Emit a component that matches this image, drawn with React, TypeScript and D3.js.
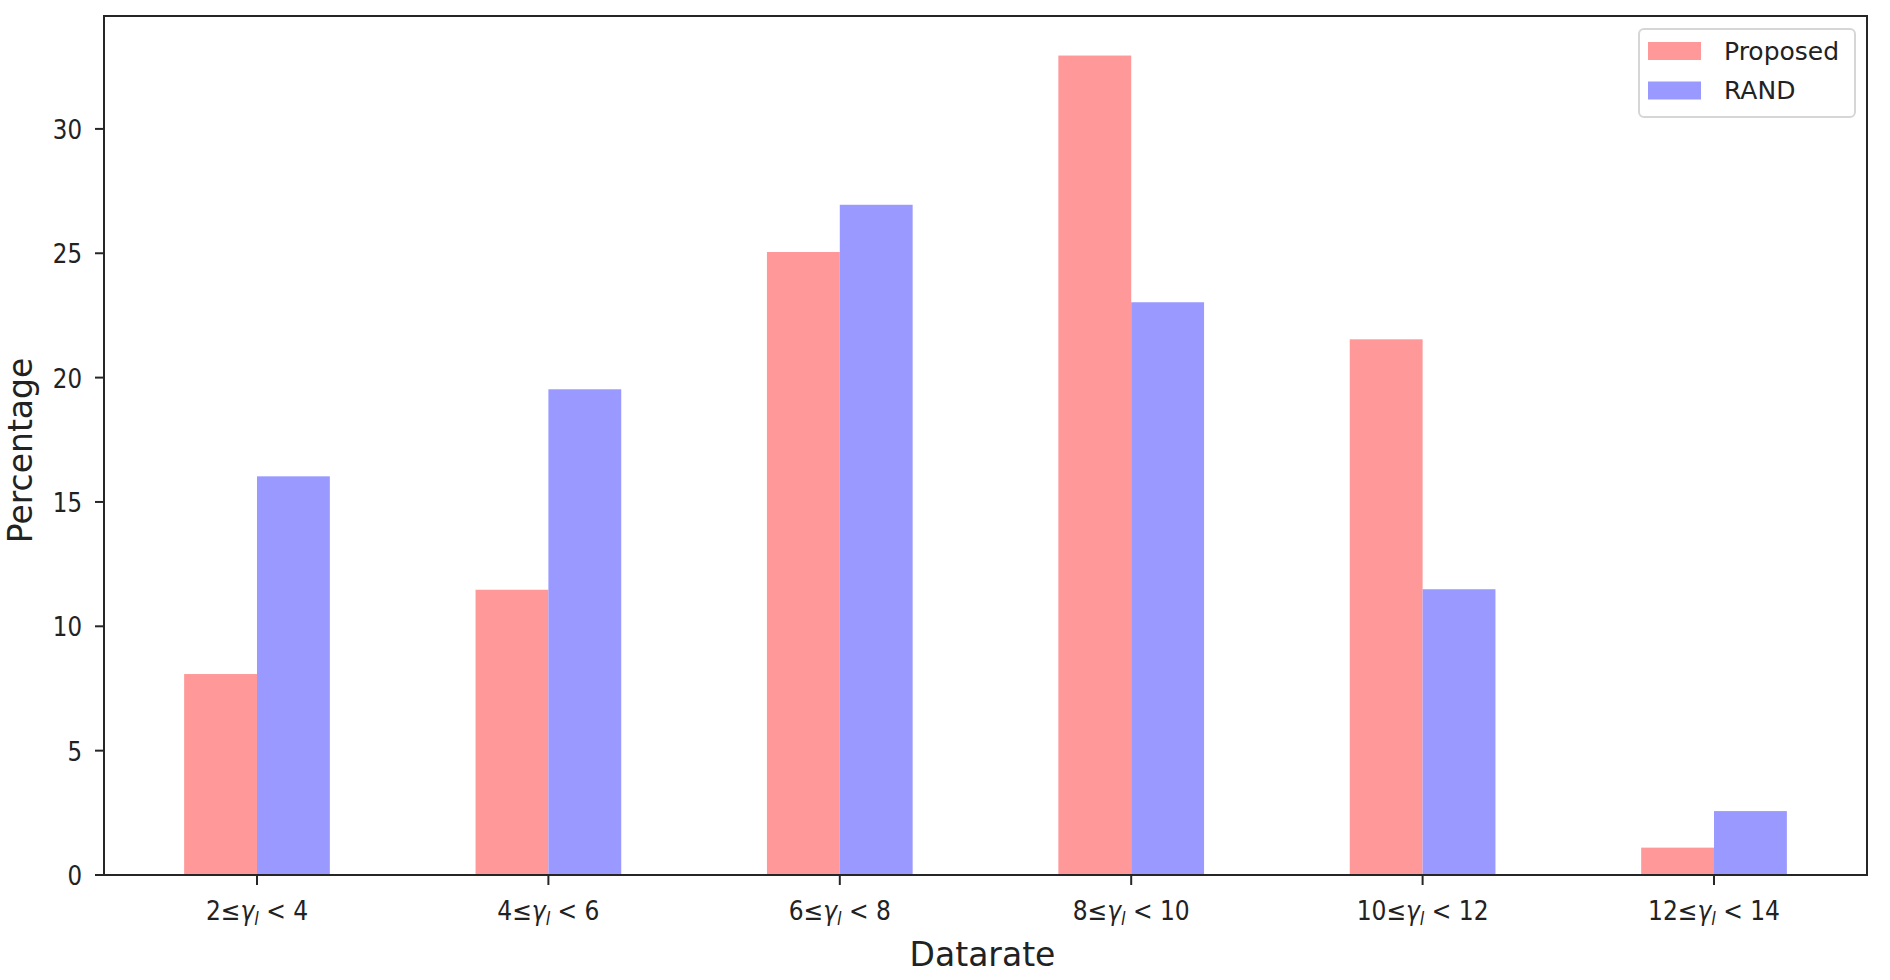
import React from "react";
import * as d3 from "d3";

const categories = ["2≤|γ|l|< 4", "4≤|γ|l|< 6", "6≤|γ|l|< 8", "8≤|γ|l|< 10", "10≤|γ|l|< 12", "12≤|γ|l|< 14"];
const seriesNames = ["Proposed", "RAND"];
const proposed = [8.08, 11.47, 25.05, 32.95, 21.54, 1.1];
const rand = [16.03, 19.53, 26.95, 23.03, 11.49, 2.57];
const yTicks = [0, 5, 10, 15, 20, 25, 30];
const colors = ["#ff9999", "#9999ff"];

const W = 1890;
const H = 980;
const left = 104;
const right = 1867;
const top = 16;
const bottom = 875;
const barW = 0.25;
const yMax = 34.54;
const FONT = "DejaVu Sans, sans-serif";

function TickLabel({ label, x, y }: { label: string; x: number; y: number }) {
  const [a, g, sub, b] = label.split("|");
  return (
    <text
      transform={`translate(${x},${y}) scale(0.9,1)`}
      textAnchor="middle"
      fontFamily={FONT}
      fontSize={26}
      fill="#222"
    >
      <tspan>{a}</tspan>
      <tspan fontStyle="italic">{g}</tspan>
      <tspan fontStyle="italic" fontSize={18} dy={5}>{sub}</tspan>
      <tspan dy={-5}>{" " + b}</tspan>
    </text>
  );
}

export default function App() {
  const x = d3.scaleLinear().domain([-0.525, categories.length - 1 + 0.525]).range([left, right]);
  const y = d3.scaleLinear().domain([0, yMax]).range([bottom, top]);
  const series = [proposed, rand];

  return (
    <svg width={W} height={H} style={{ position: "absolute", left: 0, top: 0, background: "#fff" }}>
      <rect x={0} y={0} width={W} height={H} fill="#fff" />
      {series.map((vals, si) =>
        vals.map((v, i) => {
          const x0 = si === 0 ? x(i - barW) : x(i);
          const x1 = si === 0 ? x(i) : x(i + barW);
          return (
            <rect
              key={`${si}-${i}`}
              x={x0}
              y={y(v)}
              width={x1 - x0}
              height={y(0) - y(v)}
              fill={colors[si]}
            />
          );
        })
      )}
      <rect x={left} y={top} width={right - left} height={bottom - top} fill="none" stroke="#262626" strokeWidth={2} />
      {yTicks.map((t) => (
        <g key={t}>
          <line x1={left - 9} x2={left} y1={y(t)} y2={y(t)} stroke="#262626" strokeWidth={2} />
          <text
            transform={`translate(${left - 22},${y(t) + 10}) scale(0.85,1)`}
            textAnchor="end"
            fontFamily={FONT}
            fontSize={27}
            fill="#222"
          >
            {t}
          </text>
        </g>
      ))}
      {categories.map((c, i) => (
        <g key={c}>
          <line x1={x(i)} x2={x(i)} y1={bottom} y2={bottom + 10} stroke="#262626" strokeWidth={2} />
          <TickLabel label={c} x={x(i)} y={920} />
        </g>
      ))}
      <text x={(left + right) / 2 - 3} y={966} textAnchor="middle" fontFamily={FONT} fontSize={33} fill="#222">
        Datarate
      </text>
      <text
        transform={`translate(32,${(top + bottom) / 2 + 5}) rotate(-90)`}
        textAnchor="middle"
        fontFamily={FONT}
        fontSize={33}
        fill="#222"
      >
        Percentage
      </text>
      <g>
        <rect x={1639} y={29} width={216} height={88} rx={5} fill="#fff" fillOpacity={0.8} stroke="#d6d6d6" strokeWidth={2} />
        {seriesNames.map((n, i) => (
          <g key={n}>
            <rect x={1648} y={42 + i * 39.5} width={53} height={18} fill={colors[i]} />
            <text x={1724} y={59.5 + i * 39.5} fontFamily={FONT} fontSize={25} fill="#222">
              {n}
            </text>
          </g>
        ))}
      </g>
    </svg>
  );
}
